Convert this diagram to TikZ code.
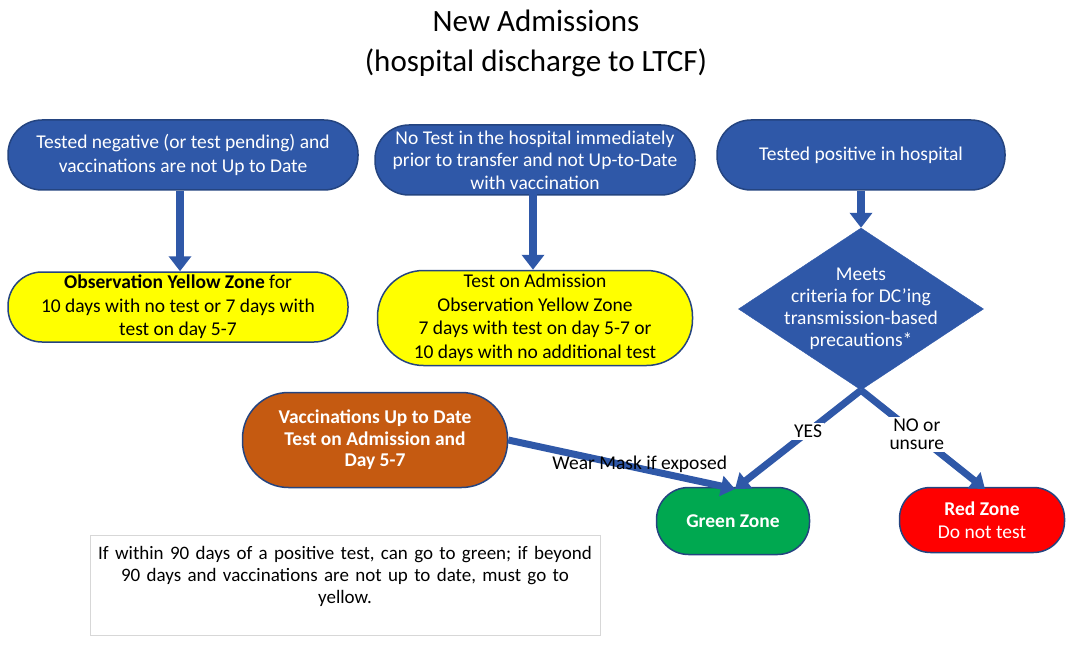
\documentclass[tikz,border=0pt]{standalone}
\usepackage{fontspec}
\setmainfont{Carlito}
\usetikzlibrary{shapes.geometric,arrows.meta}

\definecolor{flowblue}{RGB}{47,88,168}
\definecolor{edgeblue}{RGB}{36,68,128}
\definecolor{zoneyellow}{RGB}{255,255,0}
\definecolor{zoneorange}{RGB}{197,90,17}
\definecolor{zonegreen}{RGB}{0,168,80}
\definecolor{zonered}{RGB}{255,0,0}
\definecolor{notegray}{RGB}{215,215,215}

\tikzset{
  bodytext/.style={font=\fontsize{19.5}{23.5}\selectfont, align=center},
  pill/.style={bodytext, draw=edgeblue, line width=1.5pt, inner sep=0pt},
  bluepill/.style={pill, fill=flowblue, text=white},
  yellowpill/.style={pill, fill=zoneyellow, text=black},
  orangepill/.style={pill, fill=zoneorange, text=white, font=\fontsize{19.5}{21.5}\selectfont\bfseries},
  greenpill/.style={pill, fill=zonegreen, text=white},
  redpill/.style={pill, fill=zonered, text=white},
  flow/.style={draw=flowblue, line width=8pt, -{Triangle[width=22pt,length=15pt]}},
  slimflow/.style={draw=flowblue, line width=7pt, -{Triangle[width=20pt,length=14pt]}},
  branchlabel/.style={font=\fontsize{19.5}{18}\selectfont, align=center, fill=white, inner sep=2pt},
}

\begin{document}
\begin{tikzpicture}[x=1pt, y=-1pt]
  \useasboundingbox (0,0) rectangle (1073,655);

  % heading
  \node[font=\fontsize{31}{40}\selectfont, align=center] (title) at (536,43)
    {New Admissions\\(hospital discharge to LTCF)};

  % entry conditions
  \node[bluepill, minimum width=350pt, minimum height=70pt, rounded corners=34pt] (neg) at (183,155)
    {Tested negative (or test pending) and\\vaccinations are not Up to Date};
  \node[bluepill, minimum width=320pt, minimum height=70pt, rounded corners=34pt,
        font=\fontsize{19.5}{22.5}\selectfont] (notest) at (535,160)
    {No Test in the hospital immediately\\prior to transfer and not Up-to-Date\\with vaccination};
  \node[bluepill, minimum width=288pt, minimum height=70pt, rounded corners=34pt] (pos) at (861,155)
    {Tested positive in hospital};

  % observation outcomes
  \node[yellowpill, minimum width=340pt, minimum height=70pt, rounded corners=34pt] (obs1) at (178,307)
    {\textbf{Observation Yellow Zone} for\\10 days with no test or 7 days with\\test on day 5-7};
  \node[yellowpill, minimum width=315pt, minimum height=95pt, rounded corners=46pt] (obs2) at (535,318)
    {Test on Admission\\Observation Yellow Zone\\7 days with test on day 5-7 or\\10 days with no additional test};

  % decision
  \node[shape=diamond, fill=flowblue, draw=flowblue, minimum width=245pt, minimum height=162pt,
        inner sep=0pt] (crit) at (861,309) {};
  \node[bodytext, text=white, font=\fontsize{19.5}{22}\selectfont] (critText) at (crit.center)
    {Meets\\criteria for DC'ing\\transmission-based\\precautions*};

  % vaccinated admission
  \node[orangepill, minimum width=265pt, minimum height=95pt, rounded corners=46pt] (vacc) at (375,440)
    {Vaccinations Up to Date\\Test on Admission and\\Day 5-7};

  % zones
  \node[greenpill, minimum width=153pt, minimum height=67pt, rounded corners=32pt,
        font=\fontsize{19.5}{22}\selectfont\bfseries] (green) at (733,521) {Green Zone};
  \node[redpill, minimum width=165pt, minimum height=65pt, rounded corners=31pt] (red) at (982,520)
    {\textbf{Red Zone}\\Do not test};

  % footnote
  \node[draw=notegray, line width=1pt, fill=white, minimum width=510pt, minimum height=100pt,
        inner sep=0pt] (note) at (345,585) {};
  \node[text width=500pt, bodytext, font=\fontsize{19}{22}\selectfont] (noteText) at (345,576)
    {If within 90 days of a positive test, can go to green; if beyond\\90 days and vaccinations are not up to date, must go to\\yellow.};

  % connectors
  \draw[flow] (neg.south -| 180,0) -- (obs1.north -| 180,0);
  \draw[flow] (notest.south -| 533,0) ++(0,-6) -- (obs2.north -| 533,0);
  \draw[flow] (pos.south) -- (crit.north);
  \coordinate (greenTop) at (735,489);
  \coordinate (redTop) at (985,489);
  \draw[slimflow] (crit.south) -- node[branchlabel, pos=0.42] (yes) {YES} (greenTop);
  \draw[slimflow] (crit.south) -- node[branchlabel, pos=0.45] (no) {NO or\\unsure} (redTop);
  \draw[slimflow] (vacc.east) -- node[font=\fontsize{19.5}{18}\selectfont, pos=0.58, yshift=4pt] (mask) {Wear Mask if exposed} (greenTop);
\end{tikzpicture}
\end{document}
